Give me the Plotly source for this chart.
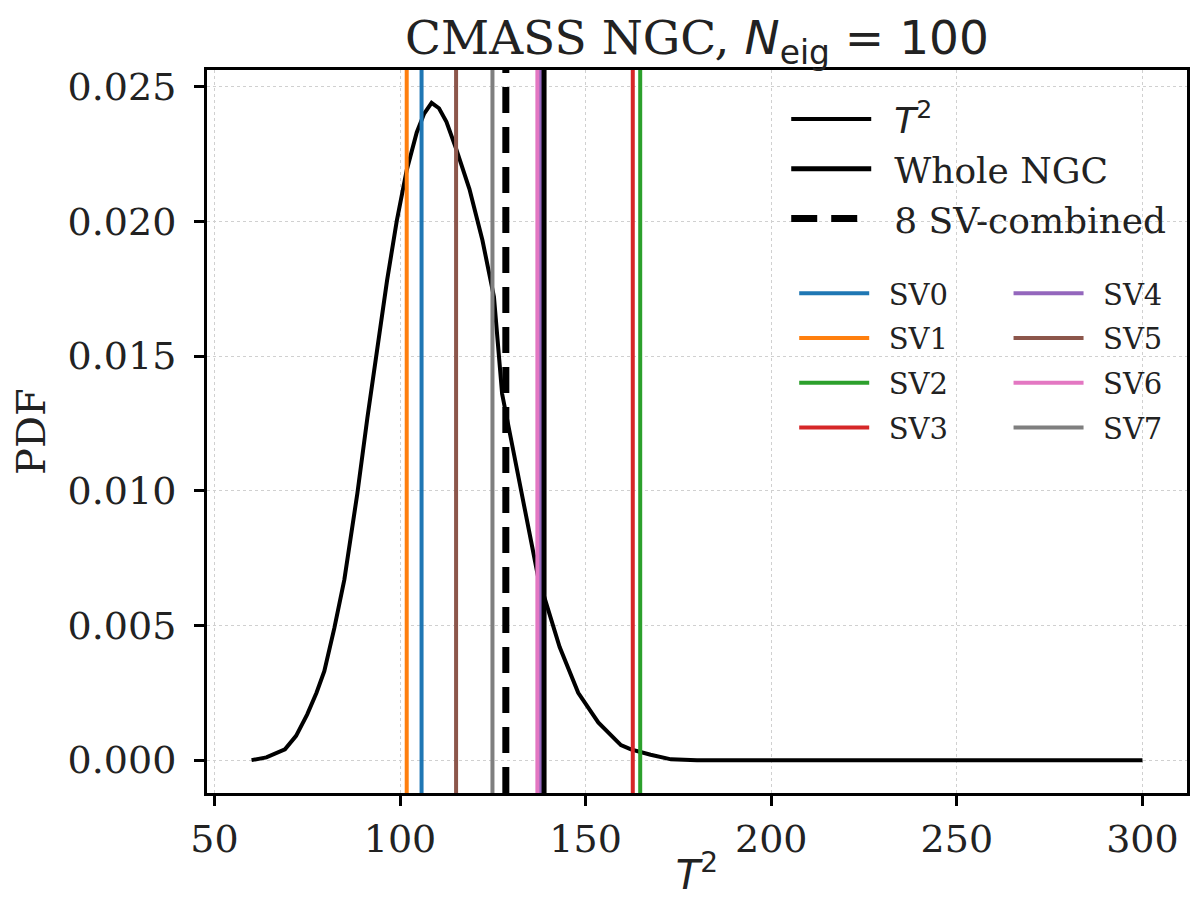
import plotly.graph_objects as go

# ---- data ----
t2_x = [60, 64, 69, 72, 75, 77.5, 79.6, 82.3, 85, 88.5, 91.2, 93, 96.5, 99.1, 101.8,
        104.5, 106.5, 108.5, 110.5, 112.5, 115.1, 118.7, 122.2, 125.3, 127.5,
        137.2, 140, 143, 148, 153.4, 159.5, 162.2, 167.5, 173, 180, 200, 250, 300]
t2_pdf = [0.0, 0.0001, 0.0004, 0.0009, 0.0017, 0.0025, 0.0033, 0.0049, 0.0067, 0.0099,
          0.0127, 0.0145, 0.0178, 0.0200, 0.0219, 0.0233, 0.0240, 0.0244, 0.0242,
          0.0237, 0.0227, 0.0212, 0.0193, 0.0172, 0.0136, 0.0068, 0.0055, 0.0042,
          0.0025, 0.0014, 0.00056, 0.0004, 0.0002, 0.00003, 0.0, 0.0, 0.0, 0.0]

sv_names = ["SV0", "SV1", "SV2", "SV3", "SV4", "SV5", "SV6", "SV7"]
sv_values = [105.8, 101.8, 164.7, 162.7, 137.8, 115.1, 137.0, 124.9]
sv_colors = ["#1f77b4", "#ff7f0e", "#2ca02c", "#d62728",
             "#9467bd", "#8c564b", "#e377c2", "#7f7f7f"]
whole_ngc = 138.8
sv_combined = 128.5

x_ticks = [50, 100, 150, 200, 250, 300]
y_ticks = [0.000, 0.005, 0.010, 0.015, 0.020, 0.025]
X_RANGE = [48, 312]
Y_RANGE = [-0.00122, 0.02562]

SERIF = "DejaVu Serif"
SANS = "DejaVu Sans"
SP = "\u2002"

fig = go.Figure()

fig.add_trace(go.Scatter(
    x=t2_x, y=t2_pdf, mode="lines",
    line=dict(color="black", width=4),
    name=f'{SP}<span style="font-family:{SANS}"><i>T</i><sup>2</sup></span>',
    legend="legend", legendgroup="a"))

for i, (nm, v, c) in enumerate(zip(sv_names, sv_values, sv_colors)):
    fig.add_trace(go.Scatter(
        x=[v, v], y=Y_RANGE, mode="lines",
        line=dict(color=c, width=4),
        name=SP + nm, legend="legend2" if i < 4 else "legend3",
        legendgroup=nm))

fig.add_trace(go.Scatter(
    x=[whole_ngc, whole_ngc], y=Y_RANGE, mode="lines",
    line=dict(color="black", width=5),
    name=SP + "Whole NGC", legend="legend", legendgroup="b"))

fig.add_trace(go.Scatter(
    x=[sv_combined, sv_combined], y=Y_RANGE, mode="lines",
    line=dict(color="black", width=7, dash="26px,14px"),
    name=SP + "8 SV-combined", legend="legend", legendgroup="c"))

axis_common = dict(
    showline=True, linecolor="black", linewidth=3, mirror=True,
    ticks="outside", ticklen=10, tickwidth=3, tickcolor="black",
    showgrid=True, gridcolor="#d0d0d0", gridwidth=1, griddash="dot",
    zeroline=False,
    tickfont=dict(family=SERIF, size=38, color="#222"),
)

fig.update_layout(
    width=1192, height=901,
    margin=dict(l=207, r=2, t=70, b=108),
    paper_bgcolor="white", plot_bgcolor="white",
    title=dict(
        text=f'CMASS NGC, <span style="font-family:{SANS}"><i>N</i><sub>eig</sub> = 100</span>',
        xref="paper", x=0.5, xanchor="center", y=0.958, yanchor="middle",
        font=dict(family=SERIF, size=47, color="#222")),
    xaxis=dict(axis_common, range=X_RANGE, tickvals=x_ticks,
               ticktext=[str(t) for t in x_ticks],
               title=dict(text=f'<span style="font-family:{SANS}"><i>T</i><sup>2</sup></span>',
                          font=dict(family=SANS, size=40, color="#222"), standoff=2)),
    yaxis=dict(axis_common, range=Y_RANGE, tickvals=y_ticks,
               ticktext=[f"{t:.3f}" for t in y_ticks], ticklabelstandoff=10,
               title=dict(text="PDF", font=dict(family=SERIF, size=40, color="#222"),
                          standoff=10)),
    legend=dict(x=(788 - 207) / 983, y=(793 - 89) / 723, xanchor="left", yanchor="top",
                bgcolor="rgba(0,0,0,0)", itemwidth=80, tracegroupgap=0,
                font=dict(family=SERIF, size=36, color="#222")),
    legend2=dict(x=(796 - 207) / 983, y=(793 - 268) / 723, xanchor="left", yanchor="top",
                 bgcolor="rgba(0,0,0,0)", itemwidth=70, tracegroupgap=4,
                 font=dict(family=SERIF, size=29, color="#222")),
    legend3=dict(x=(1011 - 207) / 983, y=(793 - 268) / 723, xanchor="left", yanchor="top",
                 bgcolor="rgba(0,0,0,0)", itemwidth=70, tracegroupgap=4,
                 font=dict(family=SERIF, size=29, color="#222")),
)

fig.write_html("out.html")
